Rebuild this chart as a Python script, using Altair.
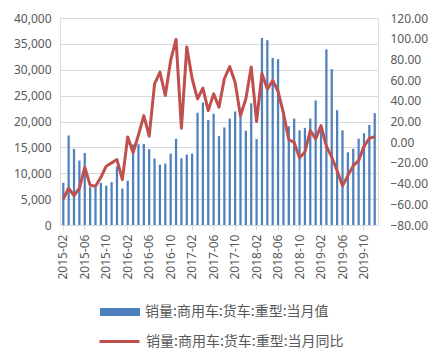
import altair as alt
import pandas as pd

months = [f"{y}-{m:02d}" for y in range(2015, 2020) for m in range(1, 13)][1:]

sales = [8150, 17300, 14700, 12450, 13900, 7300, 7300, 8150, 7600, 8280, 11350, 7050,
         8570, 15560, 15600, 15650, 14650, 12850, 11650, 11870, 13800, 16660, 12900, 13600,
         13800, 21700, 23650, 20300, 21500, 17170, 18850, 20570, 21930, 20960, 18210, 23520,
         16600, 36140, 35720, 32290, 32030, 22000, 19080, 20570, 18300, 18760, 20570, 24060,
         18800, 33940, 30120, 22190, 18300, 14040, 14750, 16690, 17730, 19340, 21600]

yoy = [-54.9, -44.5, -51.6, -44.5, -24.2, -41.5, -42.6, -33.9, -23.2, -20.0, -16.8, -36.2,
       5.0, -10.0, 7.0, 25.7, 5.8, 56.4, 67.7, 45.1, 79.0, 99.3, 13.5, 91.9,
       61.3, 41.9, 52.2, 30.6, 46.7, 33.9, 61.3, 73.0, 58.0, 25.5, 42.0, 72.6,
       20.0, 66.5, 51.3, 59.6, 49.2, 28.0, 2.5, -0.3, -15.0, -9.4, 11.3, 3.2,
       16.1, -4.0, -14.5, -27.5, -42.0, -32.3, -22.6, -17.8, -4.0, 3.7, 5.4]

months = months[:len(sales)]
tick_labels = months[::4]
left_ticks = [0, 5000, 10000, 15000, 20000, 25000, 30000, 35000, 40000]
right_ticks = [-80, -60, -40, -20, 0, 20, 40, 60, 80, 100, 120]

name_bar = "销量:商用车:货车:重型:当月值"
name_line = "销量:商用车:货车:重型:当月同比"

df = pd.DataFrame({"month": months, "sales": sales, "yoy": yoy,
                   "s1": name_bar, "s2": name_line})

LABEL = "#595959"
FONT = "Noto Sans"
CJK = "Noto Sans CJK SC"

x = alt.X("month:O", sort=months, title=None,
          scale=alt.Scale(paddingInner=0.58, paddingOuter=0.4),
          axis=alt.Axis(values=tick_labels, labelAngle=-90, labelFontSize=12,
                        labelFont=FONT, labelColor=LABEL, domainColor="#D9D9D9",
                        tickColor="#D9D9D9", tickSize=5, labelPadding=4, grid=False))

bars = alt.Chart(df).mark_bar().encode(
    x=x,
    y=alt.Y("sales:Q", title=None,
            scale=alt.Scale(domain=[0, 40000], nice=False),
            axis=alt.Axis(values=left_ticks, format=",.0f", labelFontSize=12, labelFont=FONT,
                          labelColor=LABEL, ticks=False, domain=False, labelPadding=9,
                          grid=True, gridColor="#D9D9D9", gridWidth=1)),
    fill=alt.Fill("s1:N", title=None, scale=alt.Scale(range=["#4F81BD"]),
                  legend=alt.Legend(orient="none", legendX=40, legendY=274,
                                    symbolType="M-1,-0.2H1V0.2H-1Z", symbolSize=1600,
                                    symbolStrokeWidth=0, labelFont=CJK, labelFontSize=14,
                                    labelColor=LABEL, labelLimit=400, padding=0,
                                    labelOffset=5)),
)

line = alt.Chart(df).mark_line(strokeWidth=3, strokeJoin="round").encode(
    x=x,
    y=alt.Y("yoy:Q", title=None,
            scale=alt.Scale(domain=[-80, 120], nice=False),
            axis=alt.Axis(orient="right", values=right_ticks, format=".2f", labelFontSize=12,
                          labelFont=FONT, labelColor=LABEL, ticks=False, domain=False,
                          labelPadding=12, grid=False)),
    stroke=alt.Stroke("s2:N", title=None, scale=alt.Scale(range=["#C0504D"]),
                      legend=alt.Legend(orient="none", legendX=38, legendY=302,
                                        symbolType="stroke", symbolSize=1600,
                                        symbolStrokeWidth=3, labelFont=CJK, labelFontSize=14,
                                        labelColor=LABEL, labelLimit=400, padding=0,
                                        labelOffset=5)),
)

chart = alt.layer(bars, line).resolve_scale(y="independent").properties(
    width=318, height=207,
    autosize=alt.AutoSizeParams(type="none"),
    padding={"left": 52, "top": 10, "right": 55, "bottom": 125},
).configure_view(stroke=None).configure(background="white")

chart.save("out.html", embed_options={"renderer": "svg", "actions": False})
